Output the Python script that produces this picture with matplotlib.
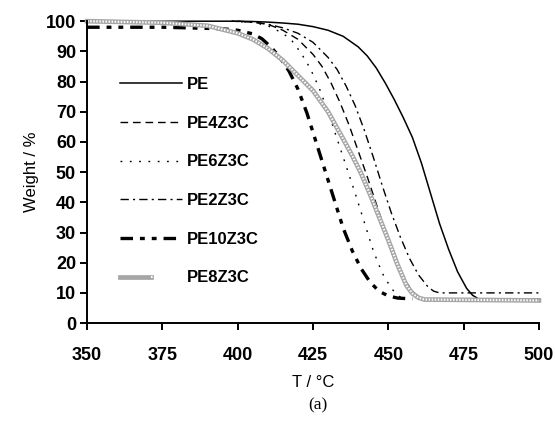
import matplotlib
matplotlib.use("Agg")
import matplotlib.pyplot as plt
from matplotlib.legend_handler import HandlerTuple

plt.rcParams['font.family'] = ['Liberation Sans', 'DejaVu Sans']
plt.rcParams['font.weight'] = 'bold'
plt.rcParams['lines.scale_dashes'] = False

# TGA curves (T in degC, weight in %)
t_pe = [350, 400, 405, 410, 415, 420, 425, 430, 435, 440, 443, 446, 449, 452, 455, 458,
        461, 464, 467, 470, 473, 476, 478, 480, 500]
w_pe = [100, 100, 99.9, 99.7, 99.4, 99, 98.2, 97, 95, 91.5, 88.5, 84.5, 79.5, 74, 68, 61.5,
        53, 43, 33, 24.5, 17, 11.5, 9.2, 8, 8]

t_pe4 = [398, 405, 410, 415, 420, 425, 428, 431, 434, 437, 440, 443, 446, 449, 452, 455,
         458, 460, 462]
w_pe4 = [100, 99.7, 99, 97, 94, 89, 85, 79.5, 73, 65.5, 57, 48.5, 39.5, 30.5, 22, 15,
         10.5, 8.8, 8]

t_pe6 = [398, 405, 410, 415, 418, 421, 424, 427, 430, 433, 436, 439, 442, 445, 448, 451,
         453, 455]
w_pe6 = [100, 99.6, 98.5, 96, 93.5, 89.5, 84.5, 78, 70, 61, 52, 43, 33.5, 24, 16.5, 11.5,
         9.3, 8]

t_pe2 = [400, 405, 410, 415, 420, 425, 430, 433, 436, 439, 442, 445, 448, 451, 454, 457,
         460, 463, 465, 467, 500]
w_pe2 = [100, 99.7, 99, 97.8, 96, 93, 88, 84, 78.5, 72, 64, 55, 45.5, 36.5, 28.5, 21.5,
         16, 12.2, 10.6, 10, 10]

t_pe10 = [350, 375, 395, 400, 405, 408, 411, 414, 417, 420, 423, 426, 429, 432, 435, 438,
          441, 444, 447, 450, 453, 458]
w_pe10 = [98, 98, 97.5, 97, 95.8, 94.2, 91.5, 88, 83.5, 77.5, 69.5, 60, 50.5, 41, 31.5, 24,
          18, 13.5, 10.5, 9, 8.3, 8]

t_pe8 = [350, 375, 390, 400, 405, 410, 415, 420, 425, 430, 435, 438, 441, 444, 447, 450,
         453, 456, 458, 460, 462, 500]
w_pe8 = [100, 99.5, 98.5, 96, 94, 91, 87, 82, 77, 70, 61, 55.5, 49.5, 42.5, 35, 27.5,
         19.5, 12.5, 9.8, 8.4, 7.8, 7.5]

fig = plt.figure(figsize=(5.55, 4.24), dpi=100)
ax = fig.add_axes([0.157, 0.238, 0.814, 0.712])

l_pe, = ax.plot(t_pe, w_pe, color='black', lw=1.1, clip_on=False)
l_pe4, = ax.plot(t_pe4, w_pe4, color='black', lw=1.0, dashes=(5.5, 3.5), clip_on=False)
l_pe6, = ax.plot(t_pe6, w_pe6, color='black', lw=1.0, dashes=(1.3, 5.4), clip_on=False)
l_pe2, = ax.plot(t_pe2, w_pe2, color='black', lw=1.0, dashes=(6, 3, 1.5, 3), clip_on=False)
l_pe10, = ax.plot(t_pe10, w_pe10, color='black', lw=2.4, dashes=(9, 5, 3.5, 5, 3.5, 5),
                  clip_on=False)
# hatched grey line: grey band with white dots on top
l_pe8a, = ax.plot(t_pe8, w_pe8, color='#a6a6a6', lw=3.4, clip_on=False)
l_pe8b, = ax.plot(t_pe8, w_pe8, color='white', lw=1.5, dashes=(1.1, 1.1), clip_on=False)

ax.set_xlim(350, 500)
ax.set_ylim(0, 100)
ax.set_xticks([350, 375, 400, 425, 450, 475, 500])
ax.set_yticks(range(0, 101, 10))

for s in ['top', 'right']:
    ax.spines[s].set_visible(False)
for s in ['left', 'bottom']:
    ax.spines[s].set_linewidth(1.4)
ax.tick_params(axis='y', direction='out', length=5, width=1.4, labelsize=13, pad=3)
ax.tick_params(axis='x', direction='out', length=5, width=1.4, labelsize=13, pad=12)

ax.set_ylabel('Weight / %', fontsize=12, labelpad=5)
ax.set_xlabel('T / \u00b0C', fontsize=12, labelpad=8)
fig.text(0.573, 0.045, '(a)', fontsize=12.5, family='Liberation Serif',
         weight='normal', ha='center', va='center')

ax.legend([l_pe, l_pe4, l_pe6, l_pe2, l_pe10, (l_pe8a, l_pe8b)],
          ['PE', 'PE4Z3C', 'PE6Z3C', 'PE2Z3C', 'PE10Z3C', 'PE8Z3C'],
          handler_map={tuple: HandlerTuple(ndivide=None, pad=0)},
          loc='upper left', bbox_to_anchor=(0.073, 0.815), frameon=False,
          fontsize=12, handlelength=3.7, handletextpad=0.3,
          labelspacing=1.42, borderpad=0, borderaxespad=0)

fig.savefig('out.png', dpi=100)
